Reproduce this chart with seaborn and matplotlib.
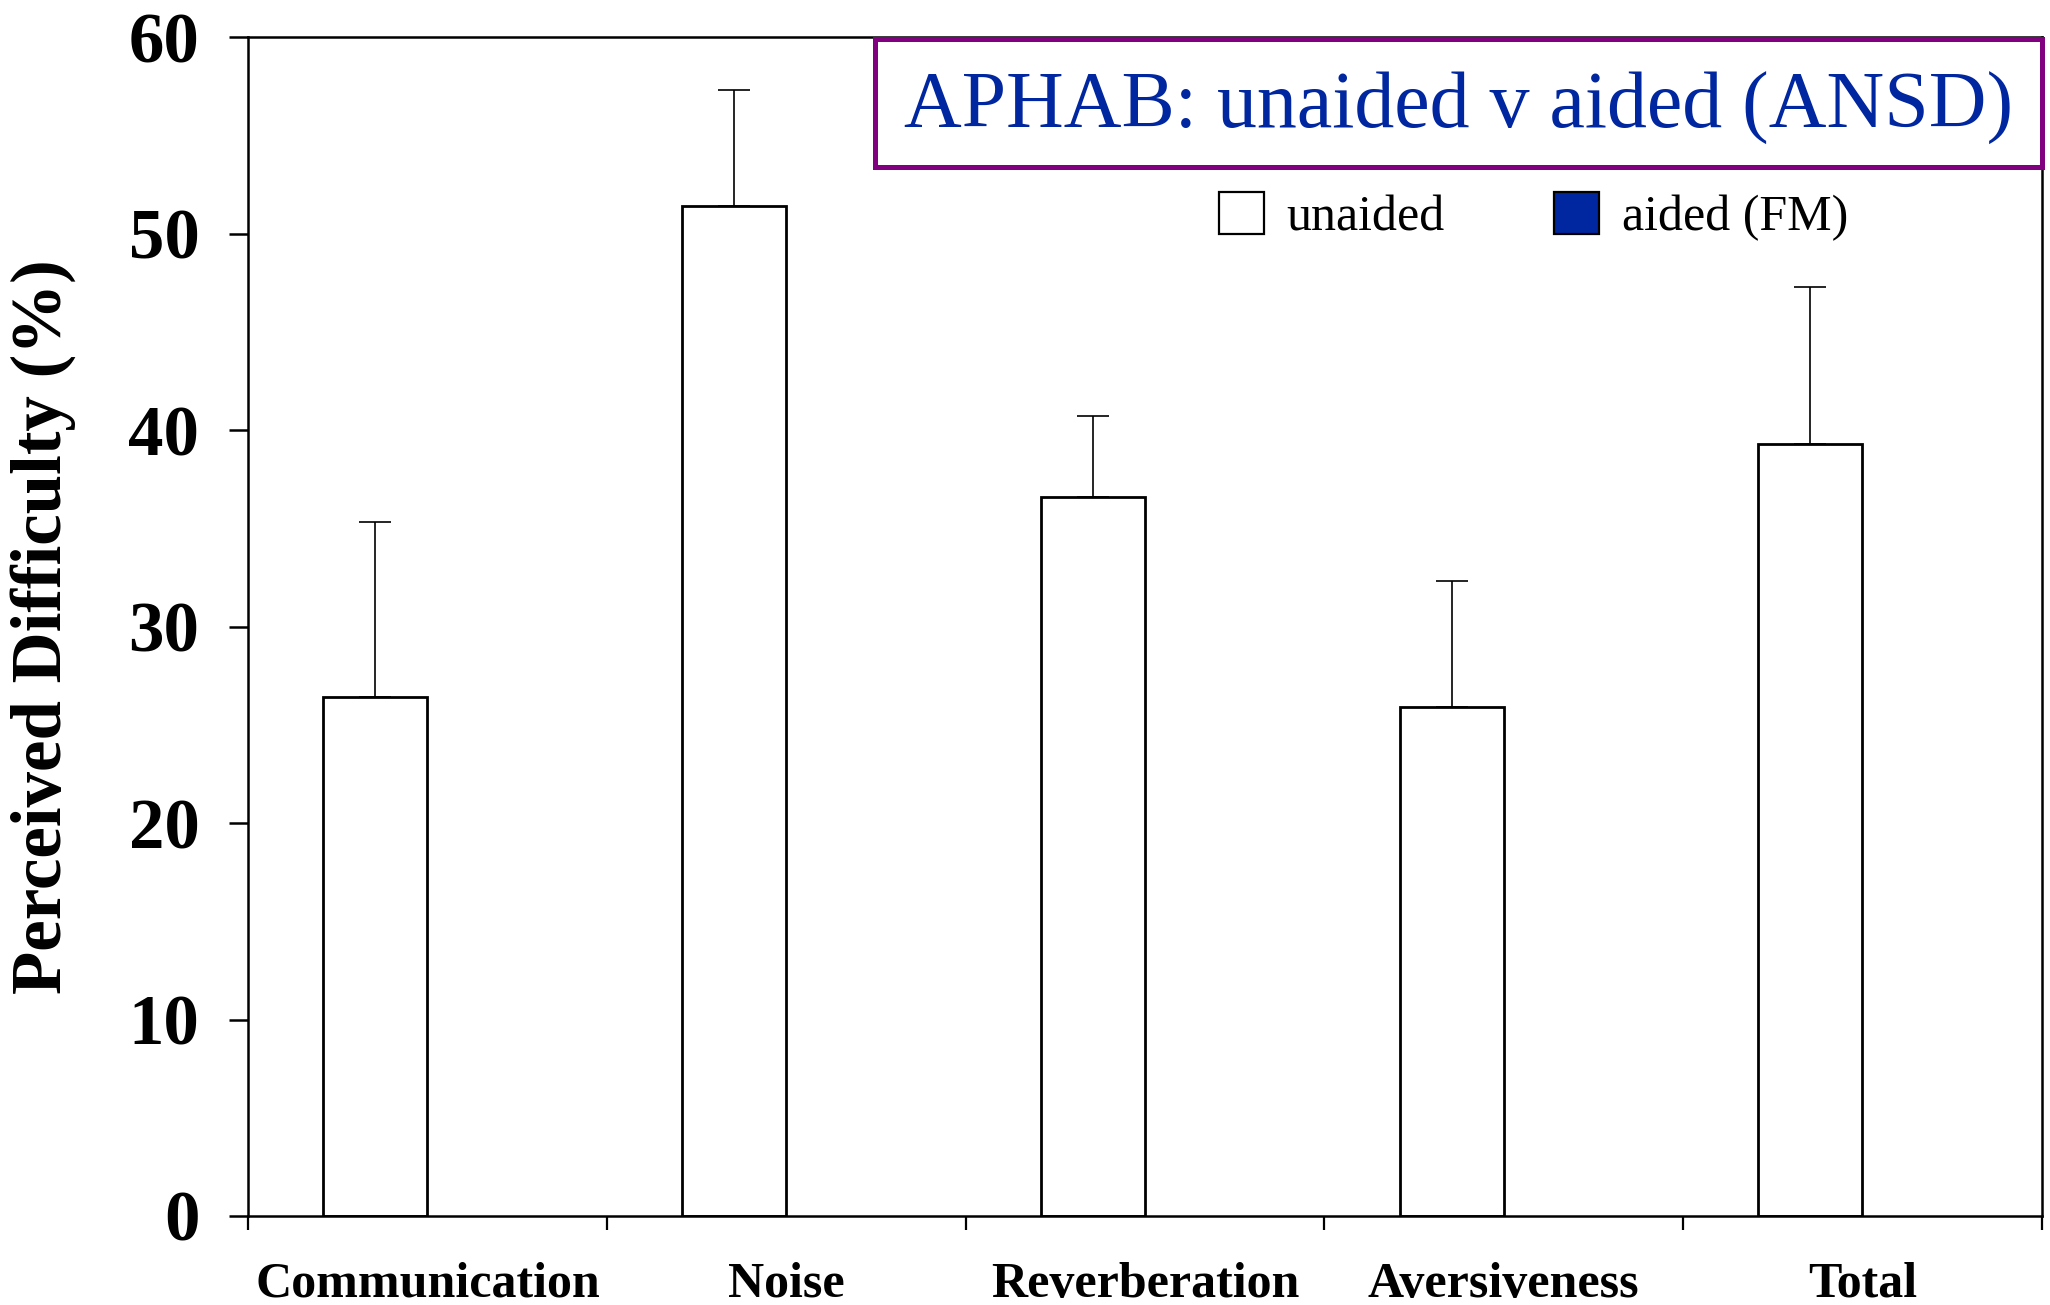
import numpy as np
import pandas as pd
import matplotlib
matplotlib.use("Agg")
import matplotlib.pyplot as plt
from matplotlib.patches import Patch, Rectangle
from matplotlib.ticker import FixedLocator
import seaborn as sns

categories = ["Communication", "Noise", "Reverberation", "Aversiveness", "Total"]
unaided = [26.4, 51.4, 36.6, 25.9, 39.3]
unaided_err = [8.9, 5.9, 4.1, 6.4, 8.0]
aided = [np.nan, np.nan, np.nan, np.nan, np.nan]
series = ["unaided", "aided (FM)"]
yticks = [0, 10, 20, 30, 40, 50, 60]

df = pd.DataFrame({
    "category": categories * 2,
    "series": [series[0]] * len(categories) + [series[1]] * len(categories),
    "value": unaided + aided,
})

sns.set_theme(style="white")
plt.rcParams["font.family"] = ["Liberation Serif", "DejaVu Serif"]
plt.rcParams.update({"text.color": "black", "axes.labelcolor": "black",
                     "xtick.color": "black", "ytick.color": "black"})

BLUE = "#0026a0"
fig = plt.figure(figsize=(20.5, 13.05), dpi=100)
ax = fig.add_axes([0.121, 0.0682, 0.875, 0.9034])

sns.barplot(data=df, x="category", y="value", hue="series", hue_order=series,
            order=categories, palette={series[0]: "white", series[1]: BLUE},
            edgecolor="black", linewidth=2.0, width=0.58, errorbar=None,
            legend=False, ax=ax)

bars = ax.containers[0]
xs = [b.get_x() + b.get_width() / 2 for b in bars]
hs = [b.get_height() for b in bars]
ax.errorbar(xs, hs, yerr=[np.zeros(len(unaided_err)), unaided_err], fmt="none",
            ecolor="black", elinewidth=1.2, capsize=11.5, capthick=1.2, zorder=3)

ax.set_ylim(0, 60)
ax.set_xlim(-0.5, len(categories) - 0.5)
ax.set_yticks(yticks)
ax.set_yticklabels([str(t) for t in yticks], fontsize=51, fontweight="bold")
ax.tick_params(axis="y", direction="out", length=14, width=1.8, pad=21, left=True)
ax.tick_params(axis="x", which="major", length=0, pad=33)
ax.xaxis.set_minor_locator(FixedLocator(np.arange(-0.5, len(categories), 1.0)))
ax.tick_params(axis="x", which="minor", direction="out", length=10, width=1.6, bottom=True)
for lab in ax.get_xticklabels():
    lab.set_fontsize(36)
    lab.set_fontweight("bold")
ax.set_xlabel("")
ax.set_ylabel("Perceived Difficulty (%)", fontsize=51, fontweight="bold")
ax.yaxis.set_label_coords(-0.096, 0.5)
for sp in ax.spines.values():
    sp.set_visible(True)
    sp.set_color("black")
    sp.set_linewidth(1.8)

# title box
x0, x1 = 0.427, 0.996
y0, y1 = 0.872, 0.970
fig.patches.append(Rectangle((x0, y0), x1 - x0, y1 - y0, transform=fig.transFigure,
                             facecolor="white", edgecolor="#800080", linewidth=3.6, zorder=5))
fig.text((x0 + x1) / 2, 0.917, "APHAB: unaided v aided (ANSD)", ha="center", va="center",
         fontsize=57.5, color=BLUE, zorder=6)

handles = [Patch(facecolor="white", edgecolor="black", linewidth=1.6, label=series[0]),
           Patch(facecolor=BLUE, edgecolor="black", linewidth=1.6, label=series[1])]
fig.legend(handles=handles, loc="center", bbox_to_anchor=(0.748, 0.834), ncol=2,
           frameon=False, fontsize=36, handlelength=0.9, handleheight=0.9,
           handletextpad=0.45, columnspacing=2.2)

fig.savefig("out.png", dpi=100)
